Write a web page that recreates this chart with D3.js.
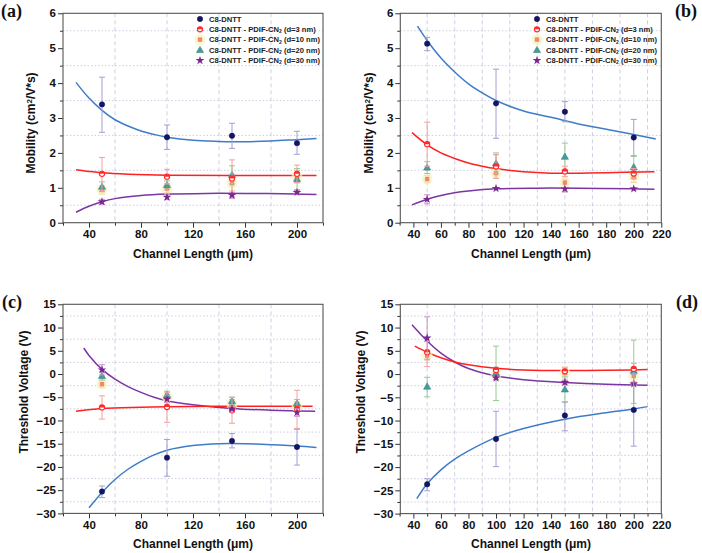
<!DOCTYPE html>
<html><head><meta charset="utf-8">
<script src="https://cdn.jsdelivr.net/npm/d3@7"></script>
<style>
body{margin:0;background:#fff;}
svg{display:block;font-family:"Liberation Sans",Arial,sans-serif;}
</style></head><body>
<svg id="chart" width="702" height="553"></svg>
<script>
// ---------------- DATA ----------------
const channelLengths = [50, 100, 150, 200];
const seriesNames = ["C8-DNTT", "C8-DNTT - PDIF-CN", "C8-DNTT - PDIF-CN", "C8-DNTT - PDIF-CN", "C8-DNTT - PDIF-CN"];
const seriesSuffix = ["", " (d=3 nm)", " (d=10 nm)", " (d=20 nm)", " (d=30 nm)"];
const panelLabels = ["(a)", "(b)", "(c)", "(d)"];
const xTitle = "Channel Length (\u03bcm)";
const mobilityTicks = [0, 1, 2, 3, 4, 5, 6];
const voltageTicks = [-30, -25, -20, -15, -10, -5, 0, 5, 10, 15];
const xTicksA = [40, 80, 120, 160, 200];
const xTicksB = [40, 60, 80, 100, 120, 140, 160, 180, 200, 220];

// Panel (a): mobility, values / error high / error low
const aC8 = [3.39, 2.45, 2.49, 2.28], aC8Hi = [4.17, 2.80, 2.85, 2.62], aC8Lo = [2.59, 2.10, 2.13, 1.96];
const aD3 = [1.40, 1.32, 1.27, 1.40], aD3Hi = [1.87, 1.53, 1.80, 1.65], aD3Lo = [0.93, 1.11, 0.74, 1.15];
const aD10 = [0.94, 0.98, 1.13, 1.32], aD10Hi = [1.06, 1.10, 1.35, 1.50], aD10Lo = [0.82, 0.86, 0.91, 1.14];
const aD20 = [1.03, 1.08, 1.37, 1.25], aD20Hi = [1.17, 1.20, 1.63, 1.55], aD20Lo = [0.89, 0.96, 1.11, 0.95];
const aD30 = [0.60, 0.73, 0.79, 0.87], aD30Hi = [0.67, 0.80, 0.86, 0.92], aD30Lo = [0.53, 0.66, 0.70, 0.82];
const aFitC8 = [[30,4.02],[40,3.57],[50,3.22],[60,2.95],[70,2.77],[80,2.63],[90,2.53],[100,2.45],[120,2.36],[140,2.33],[160,2.32],[180,2.34],[200,2.38],[215,2.41]];
const aFitD3 = [[30,1.52],[40,1.47],[50,1.43],[70,1.39],[100,1.36],[150,1.35],[215,1.35]];
const aFitD30 = [[30,0.30],[40,0.47],[50,0.60],[60,0.69],[80,0.78],[100,0.82],[130,0.84],[160,0.84],[200,0.82],[215,0.81]];

// Panel (b): mobility
const bC8 = [5.13, 3.42, 3.18, 2.44], bC8Hi = [5.31, 4.40, 3.47, 2.96], bC8Lo = [4.93, 2.42, 2.89, 1.92];
const bD3 = [2.25, 1.61, 1.47, 1.41], bD3Hi = [2.88, 1.95, 1.62, 1.55], bD3Lo = [1.62, 1.27, 1.32, 1.27];
const bD10 = [1.25, 1.42, 1.15, 1.30], bD10Hi = [1.35, 1.95, 1.25, 1.45], bD10Lo = [1.15, 1.30, 0.90, 1.15];
const bD20 = [1.58, 1.70, 1.89, 1.59], bD20Hi = [1.75, 2.00, 2.28, 1.90], bD20Lo = [1.41, 1.40, 1.50, 1.28];
const bD30 = [0.67, 0.98, 0.97, 0.97], bD30Hi = [0.80, 1.00, 1.00, 1.00], bD30Lo = [0.54, 0.96, 0.88, 0.94];
const bFitC8 = [[43,5.63],[50,5.22],[60,4.72],[70,4.32],[80,3.98],[90,3.72],[100,3.50],[120,3.20],[140,3.02],[160,2.83],[180,2.68],[200,2.53],[216,2.40]];
const bFitD3 = [[39,2.58],[50,2.23],[60,2.00],[70,1.84],[80,1.71],[90,1.62],[100,1.55],[120,1.46],[140,1.42],[160,1.42],[180,1.43],[200,1.45],[215,1.46]];
const bFitD30 = [[39,0.51],[50,0.67],[60,0.78],[70,0.86],[80,0.91],[100,0.97],[130,0.99],[160,0.99],[200,0.97],[215,0.96]];

// Panel (c): threshold voltage
const cC8 = [-25.3, -18.0, -14.4, -15.7], cC8Hi = [-24.1, -14.1, -12.8, -11.9], cC8Lo = [-26.6, -22.0, -15.9, -19.6];
const cD3 = [-7.2, -7.1, -7.8, -7.5], cD3Hi = [-4.7, -3.9, -5.0, -3.5], cD3Lo = [-9.7, -10.4, -10.6, -11.7];
const cD10 = [-2.2, -4.9, -6.6, -7.0], cD10Hi = [-1.5, -4.0, -5.5, -6.0], cD10Lo = [-2.9, -5.8, -7.7, -8.0];
const cD20 = [-0.4, -4.5, -5.8, -6.3], cD20Hi = [0.5, -3.7, -5.0, -5.5], cD20Lo = [-1.3, -5.3, -6.6, -7.1];
const cD30 = [0.9, -5.4, -7.5, -8.3], cD30Hi = [2.0, -4.6, -6.8, -7.5], cD30Lo = [-0.2, -6.2, -8.2, -9.1];
const cFitC8 = [[40,-28.8],[50,-25.5],[60,-22.7],[70,-20.5],[80,-18.8],[90,-17.4],[100,-16.4],[120,-15.4],[140,-15.0],[160,-15.0],[180,-15.2],[200,-15.5],[215,-15.8]];
const cFitD3 = [[30,-8.0],[50,-7.4],[80,-7.15],[100,-7.05],[150,-6.95],[212,-6.95]];
const cFitD30 = [[36,5.6],[40,4.0],[50,1.0],[60,-1.1],[70,-2.7],[80,-3.95],[90,-5.0],[100,-5.75],[120,-6.6],[150,-7.4],[180,-7.8],[214,-8.0]];

// Panel (d): threshold voltage
const dC8 = [-23.7, -13.95, -8.9, -7.7], dC8Hi = [-22.5, -8.0, -6.0, 0.0], dC8Lo = [-25.1, -19.9, -12.2, -15.5];
const dD3 = [4.7, 0.9, 0.6, 1.1], dD3Hi = [7.0, 1.5, 1.3, 2.3], dD3Lo = [1.6, 0.3, -0.1, -0.1];
const dD10 = [4.0, -0.2, 0.2, -0.4], dD10Hi = [5.0, 0.5, 1.5, 1.0], dD10Lo = [3.0, -0.9, -1.1, -1.8];
const dD20 = [-2.7, 0.24, -3.3, 0.7], dD20Hi = [-0.7, 6.0, -0.6, 7.3], dD20Lo = [-4.9, -5.7, -6.0, -6.3];
const dD30 = [7.75, -0.85, -1.8, -2.1], dD30Hi = [12.3, -0.5, -1.4, -1.7], dD30Lo = [3.2, -1.2, -2.2, -2.5];
const dFitC8 = [[42.5,-26.8],[50,-23.6],[60,-20.6],[70,-18.3],[80,-16.5],[100,-13.6],[120,-11.7],[150,-9.7],[180,-8.3],[200,-7.5],[210,-7.0]];
const dFitD3 = [[41,6.0],[50,4.7],[60,3.5],[70,2.6],[80,2.0],[100,1.25],[120,0.9],[150,0.75],[180,0.8],[200,0.9],[210,1.0]];
const dFitD30 = [[39,10.6],[50,7.1],[60,4.5],[70,2.6],[80,1.2],[100,-0.4],[120,-1.2],[150,-1.8],[180,-2.2],[210,-2.4]];

// ---------------- STYLE ----------------
const markerColors = ["#14146a", "#ff2a2a", "#f07a6a", "#2f8585", "#7a2590"];
const errColors = ["#a0a0d4", "#f4a0a0", "#f5b590", "#94cc94", "#cc90cc"];
const fitColors = {c8: "#3f7cc8", d3: "#ff2020", d30: "#7b35a5"};

const svg = d3.select("#chart");

function drawPanel(cfg) {
  const g = svg.append("g");
  const x = d3.scaleLinear().domain(cfg.xDomain).range([cfg.left, cfg.right]);
  const y = d3.scaleLinear().domain(cfg.yDomain).range([cfg.bottom, cfg.top]);

  g.selectAll(".vg").data(cfg.xGrid).enter().append("line")
    .attr("x1", d => x(d)).attr("x2", d => x(d)).attr("y1", cfg.top).attr("y2", cfg.bottom)
    .attr("stroke", "#c9c9df").attr("stroke-width", 0.9).attr("stroke-dasharray", "4,3");
  g.selectAll(".hg").data(cfg.yGrid).enter().append("line")
    .attr("x1", cfg.left).attr("x2", cfg.right).attr("y1", d => y(d)).attr("y2", d => y(d))
    .attr("stroke", "#c9c9df").attr("stroke-width", 0.9).attr("stroke-dasharray", "1.5,2");

  const xAxis = d3.axisBottom(x).tickValues(cfg.xTicks).tickSize(5).tickFormat(d3.format("d"));
  const xMinor = d3.axisBottom(x).tickValues(cfg.xMinor).tickSize(3).tickFormat("");
  const yAxis = d3.axisLeft(y).tickValues(cfg.yTicks).tickSize(5).tickFormat(d3.format("d"));
  const yMinor = d3.axisLeft(y).tickValues(cfg.yMinor).tickSize(3).tickFormat("");
  [[xAxis, "b"], [xMinor, "b"], [yAxis, "l"], [yMinor, "l"]].forEach(([ax, side]) => {
    const a = g.append("g").attr("transform", side === "b" ? `translate(0,${cfg.bottom})` : `translate(${cfg.left},0)`).call(ax);
    a.select(".domain").remove();
    a.selectAll("line").attr("stroke", "#333").attr("stroke-width", 1);
    a.selectAll("text").attr("font-size", 11.5).attr("font-weight", "bold").attr("fill", "#111");
    if (side === "b") a.selectAll("text").attr("dy", "0.72em").attr("y", 7);
    else a.selectAll("text").attr("x", -7);
  });
  g.append("rect").attr("x", cfg.left).attr("y", cfg.top).attr("width", cfg.right - cfg.left).attr("height", cfg.bottom - cfg.top)
    .attr("fill", "none").attr("stroke", "#555").attr("stroke-width", 1.1);

  const line = d3.line().x(d => x(d[0])).y(d => y(d[1])).curve(d3.curveCatmullRom.alpha(0.5));
  cfg.fits.forEach(f => {
    g.append("path").datum(f.data).attr("d", line).attr("fill", "none").attr("stroke", f.color).attr("stroke-width", 1.5);
  });

  const order = [2, 3, 1, 4, 0];
  order.forEach(si => {
    const s = cfg.series[si];
    const pts = channelLengths.map((c, i) => ({x: c, v: s.v[i], hi: s.hi[i], lo: s.lo[i]}));
    const eg = g.append("g");
    pts.forEach(p => {
      const cx = x(p.x);
      eg.append("line").attr("x1", cx).attr("x2", cx).attr("y1", y(p.hi)).attr("y2", y(p.lo)).attr("stroke", errColors[si]).attr("stroke-width", 1);
      [p.hi, p.lo].forEach(v => eg.append("line").attr("x1", cx - 3).attr("x2", cx + 3).attr("y1", y(v)).attr("y2", y(v)).attr("stroke", errColors[si]).attr("stroke-width", 1));
    });
    pts.forEach(p => drawMarker(g, si, x(p.x), y(p.v)));
  });
}

function drawMarker(g, si, cx, cy) {
  if (si === 0) {
    g.append("circle").attr("cx", cx).attr("cy", cy).attr("r", 2.7).attr("fill", markerColors[0]).attr("stroke", "#0c0c40").attr("stroke-width", 0.5);
  } else if (si === 1) {
    g.append("circle").attr("cx", cx).attr("cy", cy).attr("r", 2.6).attr("fill", "#fff").attr("stroke", markerColors[1]).attr("stroke-width", 1.1);
    g.append("path").attr("d", `M${cx - 2.6},${cy} A2.6,2.6 0 0 1 ${cx + 2.6},${cy} Z`).attr("fill", markerColors[1]);
  } else if (si === 2) {
    g.append("circle").attr("cx", cx).attr("cy", cy).attr("r", 5.5).attr("fill", "#f6f3b8").attr("opacity", 0.7);
    g.append("rect").attr("x", cx - 2.2).attr("y", cy - 2.2).attr("width", 4.4).attr("height", 4.4).attr("fill", markerColors[2]).attr("opacity", 0.9);
  } else if (si === 3) {
    g.append("path").attr("d", d3.symbol(d3.symbolTriangle, 22)()).attr("transform", `translate(${cx},${cy + 0.5})`)
      .attr("fill", "#4b9a9a").attr("stroke", markerColors[3]).attr("stroke-width", 0.6);
  } else {
    g.append("path").attr("d", d3.symbol(d3.symbolStar, 24)()).attr("transform", `translate(${cx},${cy})`).attr("fill", markerColors[4]);
  }
}

function drawLegend(lx, ly) {
  const g = svg.append("g");
  const rowY = [0, 10.3, 20.6, 31, 41.5];
  seriesNames.forEach((n, i) => {
    drawMarker(g, i, lx, ly + rowY[i]);
    const t = g.append("text").attr("x", lx + 9).attr("y", ly + rowY[i]).attr("dy", "0.35em")
      .attr("font-size", 7.6).attr("font-weight", "bold").attr("fill", "#222");
    t.append("tspan").text(n);
    if (i > 0) {
      t.append("tspan").attr("font-size", 5).attr("dy", "0.25em").text("2");
      t.append("tspan").attr("dy", "-0.18em").text(seriesSuffix[i]);
    }
  });
}

function yTitleMobility(x, yc) {
  const t = svg.append("text").attr("transform", `translate(${x},${yc}) rotate(-90)`).attr("text-anchor", "middle")
    .attr("dy", "0.35em").attr("font-size", 12).attr("font-weight", "bold").attr("fill", "#111");
  t.append("tspan").text("Mobility (cm");
  t.append("tspan").attr("font-size", 8).attr("dy", "-0.45em").text("2");
  t.append("tspan").attr("dy", "0.3em").text("/V*s)");
}
function yTitleVoltage(x, yc) {
  svg.append("text").attr("transform", `translate(${x},${yc}) rotate(-90)`).attr("text-anchor", "middle")
    .attr("dy", "0.35em").attr("font-size", 12).attr("font-weight", "bold").attr("fill", "#111").text("Threshold Voltage (V)");
}
function xTitleAt(xc, yb) {
  svg.append("text").attr("x", xc).attr("y", yb).attr("text-anchor", "middle").attr("font-size", 12).attr("font-weight", "bold").attr("fill", "#111").text(xTitle);
}
function panelLabel(txt, x, y) {
  svg.append("text").attr("x", x).attr("y", y).attr("font-family", "'Liberation Serif','Times New Roman',serif")
    .attr("font-size", 18).attr("font-weight", "bold").attr("fill", "#111").text(txt);
}

const gridA = [60, 100, 140, 180];
const gridB = [50, 70, 90, 110, 130, 150, 170, 190, 210];
const minorA = [20, 60, 100, 140, 180, 220];
const minorB = [30, 50, 70, 90, 110, 130, 150, 170, 190, 210];
const mobGrid = [0.5, 1.5, 2.5, 3.5, 4.5, 5.5];
const vGrid = [-27.5, -22.5, -17.5, -12.5, -7.5, -2.5, 2.5, 7.5, 12.5];

const mkSeries = (arr) => arr.map(a => ({v: a[0], hi: a[1], lo: a[2]}));

drawPanel({left: 63, right: 323, top: 13.3, bottom: 222.7, xDomain: [20, 220], yDomain: [0, 6],
  xTicks: xTicksA, xMinor: minorA, xGrid: gridA, yTicks: mobilityTicks, yMinor: mobGrid, yGrid: mobGrid,
  fits: [{data: aFitD30, color: fitColors.d30}, {data: aFitD3, color: fitColors.d3}, {data: aFitC8, color: fitColors.c8}],
  series: mkSeries([[aC8, aC8Hi, aC8Lo], [aD3, aD3Hi, aD3Lo], [aD10, aD10Hi, aD10Lo], [aD20, aD20Hi, aD20Lo], [aD30, aD30Hi, aD30Lo]])});
drawPanel({left: 400.3, right: 661.3, top: 13.3, bottom: 222.7, xDomain: [30.5, 220], yDomain: [0, 6],
  xTicks: xTicksB, xMinor: minorB, xGrid: gridB, yTicks: mobilityTicks, yMinor: mobGrid, yGrid: mobGrid,
  fits: [{data: bFitD30, color: fitColors.d30}, {data: bFitD3, color: fitColors.d3}, {data: bFitC8, color: fitColors.c8}],
  series: mkSeries([[bC8, bC8Hi, bC8Lo], [bD3, bD3Hi, bD3Lo], [bD10, bD10Hi, bD10Lo], [bD20, bD20Hi, bD20Lo], [bD30, bD30Hi, bD30Lo]])});
drawPanel({left: 63, right: 323, top: 304.3, bottom: 513.4, xDomain: [20, 220], yDomain: [-30, 15],
  xTicks: xTicksA, xMinor: minorA, xGrid: gridA, yTicks: voltageTicks, yMinor: vGrid, yGrid: vGrid,
  fits: [{data: cFitC8, color: fitColors.c8}, {data: cFitD30, color: fitColors.d30}, {data: cFitD3, color: fitColors.d3}],
  series: mkSeries([[cC8, cC8Hi, cC8Lo], [cD3, cD3Hi, cD3Lo], [cD10, cD10Hi, cD10Lo], [cD20, cD20Hi, cD20Lo], [cD30, cD30Hi, cD30Lo]])});
drawPanel({left: 400.3, right: 661.3, top: 304.3, bottom: 513.6, xDomain: [30.5, 220], yDomain: [-30, 15],
  xTicks: xTicksB, xMinor: minorB, xGrid: gridB, yTicks: voltageTicks, yMinor: vGrid, yGrid: vGrid,
  fits: [{data: dFitC8, color: fitColors.c8}, {data: dFitD30, color: fitColors.d30}, {data: dFitD3, color: fitColors.d3}],
  series: mkSeries([[dC8, dC8Hi, dC8Lo], [dD3, dD3Hi, dD3Lo], [dD10, dD10Hi, dD10Lo], [dD20, dD20Hi, dD20Lo], [dD30, dD30Hi, dD30Lo]])});

drawLegend(200, 19);
drawLegend(537, 19);

yTitleMobility(31, 123);
yTitleMobility(369, 123);
yTitleVoltage(24, 392);
yTitleVoltage(361, 392);
xTitleAt(193, 258);
xTitleAt(531, 258);
xTitleAt(193, 548);
xTitleAt(531, 548);

panelLabel(panelLabels[0], 1, 17);
panelLabel(panelLabels[1], 675, 17);
panelLabel(panelLabels[2], 2, 308);
panelLabel(panelLabels[3], 676, 308);
</script>
</body></html>
